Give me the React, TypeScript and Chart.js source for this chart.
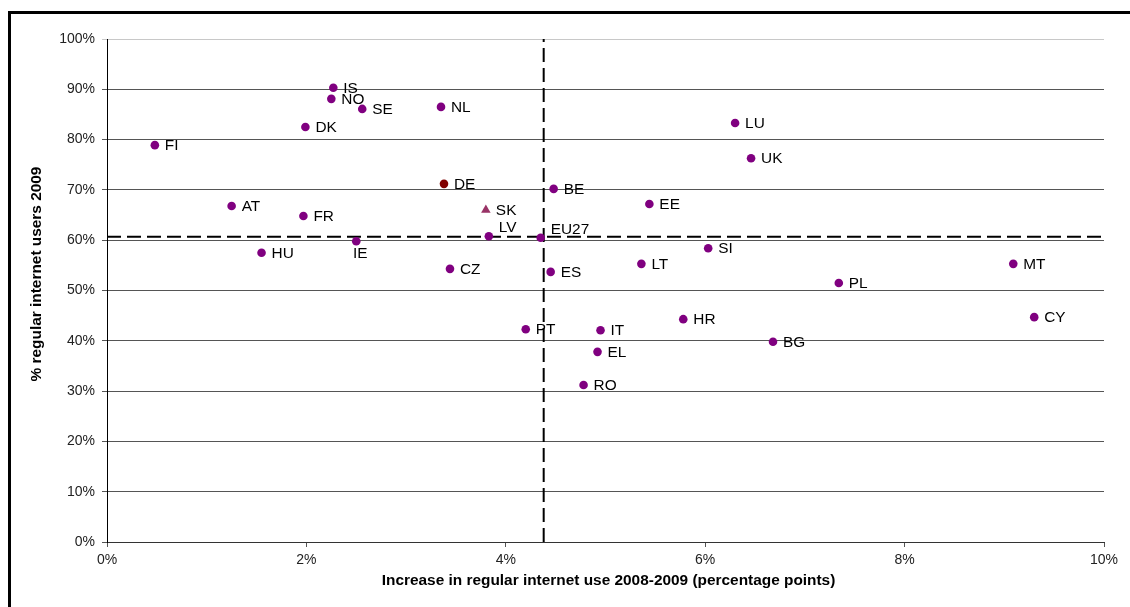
import React, { useEffect, useRef } from 'react';
import { Chart, registerables } from 'chart.js';

Chart.register(...registerables);

// Country codes
const countries = ['FI', 'IS', 'NO', 'SE', 'NL', 'DK', 'DE', 'AT', 'FR', 'SK', 'LV', 'EU27', 'HU', 'IE', 'CZ', 'ES', 'BE', 'EE', 'LU', 'UK', 'SI', 'LT', 'MT', 'PL', 'CY', 'HR', 'BG', 'PT', 'IT', 'EL', 'RO'];
// Increase in regular internet use 2008-2009 (percentage points)
const increase = [0.48, 2.27, 2.25, 2.56, 3.35, 1.99, 3.38, 1.25, 1.97, 3.80, 3.83, 4.35, 1.55, 2.50, 3.44, 4.45, 4.48, 5.44, 6.30, 6.46, 6.03, 5.36, 9.09, 7.34, 9.30, 5.78, 6.68, 4.20, 4.95, 4.92, 4.78];
// % regular internet users 2009
const users2009 = [78.9, 90.3, 88.1, 86.1, 86.5, 82.5, 71.2, 66.8, 64.8, 66.0, 60.8, 60.5, 57.5, 59.8, 54.3, 53.7, 70.2, 67.2, 83.3, 76.3, 58.4, 55.3, 55.3, 51.5, 44.7, 44.3, 39.8, 42.3, 42.1, 37.8, 31.2];
// Where each country's label sits relative to its marker
const labelPlacement = ['right', 'right', 'right', 'right', 'right', 'right', 'right', 'right', 'right', 'right', 'above', 'above', 'right', 'below', 'right', 'right', 'right', 'right', 'right', 'right', 'right', 'right', 'right', 'right', 'right', 'right', 'right', 'right', 'right', 'right', 'right'];
// EU27 reference lines
const euIncrease = 4.38;
const euUsers = 60.7;
// Axis ticks
const xTicks = [0, 2, 4, 6, 8, 10];
const yTicks = [0, 10, 20, 30, 40, 50, 60, 70, 80, 90, 100];

const FONT = '"Liberation Sans", Arial, sans-serif';

export default function App() {
  const ref = useRef<HTMLCanvasElement>(null);

  useEffect(() => {
    const canvas = ref.current;
    if (!canvas) return;

    const pts = (keep: (c: string) => boolean) =>
      countries
        .map((c, i) => ({ x: increase[i], y: users2009[i], c }))
        .filter((p) => keep(p.c));

    const framePlugin = {
      id: 'frameAndTitles',
      beforeDraw(chart: any) {
        const ctx = chart.ctx;
        ctx.save();
        ctx.fillStyle = '#ffffff';
        ctx.fillRect(0, 0, chart.width, chart.height);
        ctx.fillStyle = '#000000';
        ctx.fillRect(8, 11, 3, chart.height);
        ctx.fillRect(8, 11, chart.width, 3);
        ctx.restore();
      },
      afterDraw(chart: any) {
        const ctx = chart.ctx;
        const { left, right } = chart.chartArea;
        ctx.save();
        ctx.fillStyle = '#000000';
        ctx.font = 'bold 14px ' + FONT;
        ctx.textAlign = 'center';
        ctx.textBaseline = 'middle';
        ctx.save();
        ctx.translate((left + right) / 2 + 3, 581);
        ctx.scale(1.1, 1);
        ctx.fillText('Increase in regular internet use 2008-2009 (percentage points)', 0, 0);
        ctx.restore();
        ctx.translate(37, 274);
        ctx.rotate(-Math.PI / 2);
        ctx.scale(1.1, 1);
        ctx.fillText('% regular internet users 2009', 0, 0);
        ctx.restore();
      },
    };

    const labelPlugin = {
      id: 'pointLabels',
      afterDatasetsDraw(chart: any) {
        const ctx = chart.ctx;
        const xs = chart.scales.x;
        const ys = chart.scales.y;
        ctx.save();
        ctx.fillStyle = '#000000';
        ctx.font = '14px ' + FONT;
        ctx.textBaseline = 'middle';
        countries.forEach((c, i) => {
          const px = xs.getPixelForValue(increase[i]);
          const py = ys.getPixelForValue(users2009[i]);
          const place = labelPlacement[i];
          let tx = px + 10;
          let ty = py + 1;
          ctx.textAlign = 'left';
          if (place === 'above') {
            ty = py - 8;
          } else if (place === 'below') {
            ctx.textAlign = 'center';
            tx = px + 4;
            ty = py + 13;
          }
          ctx.save();
          ctx.translate(tx, ty);
          ctx.scale(1.1, 1);
          ctx.fillText(c, 0, 0);
          ctx.restore();
        });
        ctx.restore();
      },
    };

    const chart = new Chart(canvas, {
      type: 'scatter',
      data: {
        datasets: [
          {
            label: 'Countries',
            data: pts((c) => c !== 'DE' && c !== 'SK'),
            backgroundColor: '#800080',
            borderColor: '#800080',
            borderWidth: 0,
            pointRadius: 4.3,
            pointStyle: 'circle',
          },
          {
            label: 'DE',
            data: pts((c) => c === 'DE'),
            backgroundColor: '#800000',
            borderColor: '#800000',
            borderWidth: 0,
            pointRadius: 4.3,
            pointStyle: 'circle',
          },
          {
            label: 'SK',
            data: pts((c) => c === 'SK'),
            backgroundColor: '#993366',
            borderColor: '#993366',
            borderWidth: 0,
            pointRadius: 5.5,
            pointStyle: 'triangle',
          },
          {
            label: 'EU27 increase',
            data: [{ x: euIncrease, y: 0 }, { x: euIncrease, y: 100 }],
            showLine: true,
            borderColor: '#000000',
            borderWidth: 2,
            borderDash: [14, 6],
            pointRadius: 0,
          },
          {
            label: 'EU27 users',
            data: [{ x: 0, y: euUsers }, { x: 10, y: euUsers }],
            showLine: true,
            borderColor: '#000000',
            borderWidth: 2,
            borderDash: [14, 6],
            pointRadius: 0,
          },
        ],
      },
      options: {
        responsive: false,
        animation: false,
        events: [],
        layout: { padding: { left: 0, right: 26, top: 39, bottom: 0 } },
        plugins: {
          legend: { display: false },
          tooltip: { enabled: false },
        },
        scales: {
          x: {
            type: 'linear',
            min: 0,
            max: 10,
            afterBuildTicks: (scale: any) => {
              scale.ticks = xTicks.map((v) => ({ value: v }));
            },
            afterFit: (scale: any) => {
              scale.height = 65;
            },
            ticks: {
              callback: (v: any) => v + '%',
              font: { family: FONT, size: 14 },
              color: '#222222',
              padding: 5,
              maxRotation: 0,
            },
            grid: {
              display: true,
              drawOnChartArea: false,
              drawTicks: true,
              tickLength: 5,
              color: '#555555',
            },
            border: { display: true, color: '#333333', width: 1 },
          },
          y: {
            type: 'linear',
            min: 0,
            max: 100,
            afterBuildTicks: (scale: any) => {
              scale.ticks = yTicks.map((v) => ({ value: v }));
            },
            afterFit: (scale: any) => {
              scale.width = 107;
            },
            ticks: {
              callback: (v: any) => v + '%',
              font: { family: FONT, size: 14 },
              color: '#222222',
              padding: 7,
            },
            grid: {
              drawTicks: true,
              tickLength: 5,
              color: (ctx: any) => (ctx.tick && ctx.tick.value === 100 ? '#c8c8c8' : '#555555'),
            },
            border: { display: true, color: '#000000', width: 1 },
          },
        },
      },
      plugins: [framePlugin, labelPlugin],
    } as any);

    return () => chart.destroy();
  }, []);

  return (
    <div style={{ position: 'fixed', left: 0, top: 0, width: 1130, height: 607, background: '#ffffff' }}>
      <canvas ref={ref} width={1130} height={607} style={{ display: 'block' }} />
    </div>
  );
}
